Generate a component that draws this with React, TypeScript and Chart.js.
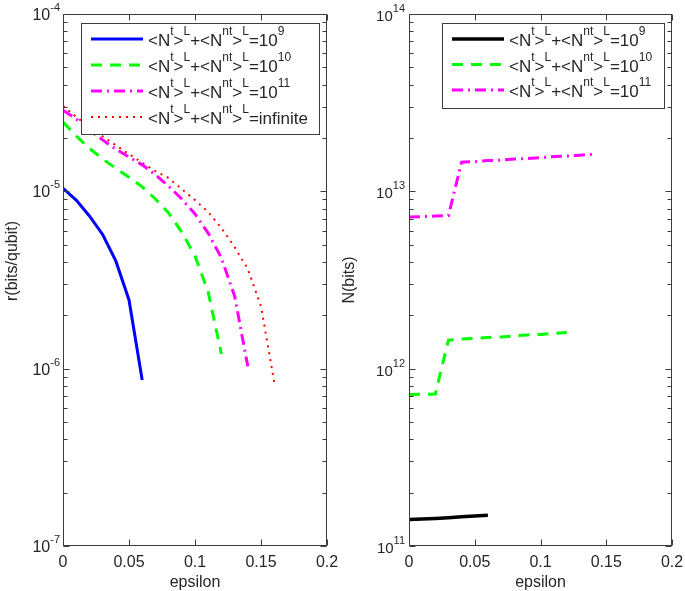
import React, { useEffect, useRef } from 'react';
import { Chart, registerables } from 'chart.js';

Chart.register(...registerables);

// ---------- data ----------
const eps9 = [0, 0.01, 0.02, 0.03, 0.04, 0.05, 0.06];
const eps10 = [0, 0.01, 0.02, 0.03, 0.04, 0.05, 0.06, 0.07, 0.08, 0.09, 0.1, 0.11, 0.12];
const eps11 = [0, 0.01, 0.02, 0.03, 0.04, 0.05, 0.06, 0.07, 0.08, 0.09, 0.1, 0.11, 0.12, 0.13, 0.14];
const epsInf = [0, 0.01, 0.02, 0.03, 0.04, 0.05, 0.06, 0.07, 0.08, 0.09, 0.1, 0.11, 0.12, 0.13, 0.14, 0.15, 0.16];

const rate9 = [1.04e-5, 8.93e-6, 7.26e-6, 5.71e-6, 4.05e-6, 2.44e-6, 8.63e-7];
const rate10 = [2.46e-5, 2.05e-5, 1.75e-5, 1.52e-5, 1.35e-5, 1.2e-5, 1.06e-5, 9.05e-6, 7.55e-6, 5.89e-6, 4.32e-6, 2.7e-6, 1.21e-6];
const rate11 = [2.87e-5, 2.56e-5, 2.22e-5, 1.95e-5, 1.73e-5, 1.56e-5, 1.41e-5, 1.24e-5, 1.07e-5, 9.05e-6, 7.45e-6, 5.82e-6, 4.21e-6, 2.57e-6, 1.03e-6];
const rateInf = [3.03e-5, 2.63e-5, 2.31e-5, 2.04e-5, 1.82e-5, 1.62e-5, 1.45e-5, 1.3e-5, 1.19e-5, 1.03e-5, 8.93e-6, 7.64e-6, 6.21e-6, 4.85e-6, 3.65e-6, 2.25e-6, 8.4e-7];

const bits9 = [1.41e11, 1.42e11, 1.43e11, 1.445e11, 1.46e11, 1.475e11, 1.49e11];
const bits10 = [7.16e11, 7.17e11, 7.2e11, 1.45e12, 1.47e12, 1.48e12, 1.5e12, 1.51e12, 1.53e12, 1.55e12, 1.56e12, 1.58e12, 1.6e12];
const bits11 = [7.16e12, 7.2e12, 7.25e12, 7.3e12, 1.46e13, 1.47e13, 1.49e13, 1.5e13, 1.52e13, 1.53e13, 1.55e13, 1.57e13, 1.58e13, 1.6e13, 1.62e13];

const xTicks = [0, 0.05, 0.1, 0.15, 0.2];
const xTickLabels = ['0', '0.05', '0.1', '0.15', '0.2'];
const leftYExps = [-7, -6, -5, -4];
const rightYExps = [11, 12, 13, 14];
const legendTotals = ['9', '10', '11', 'infinite'];
const xTitle = 'epsilon';
const leftYTitle = 'r(bits/qubit)';
const rightYTitle = 'N(bits)';

const FONT = '"Liberation Sans", Arial, Helvetica, sans-serif';
const AXIS = '#3c3c3c';
const TEXT = '#262626';

type Seg = [string, boolean];
function legendSegs(total: string): Seg[] {
  const sup = total !== 'infinite';
  const segs: Seg[] = [['<N', false], ['t', true], ['>', false], ['L', true], ['+<N', false], ['nt', true], ['>', false], ['L', true]];
  if (sup) { segs.push(['=10', false]); segs.push([total, true]); }
  else segs.push(['=' + total, false]);
  return segs;
}

function drawRich(ctx: CanvasRenderingContext2D, segs: Seg[], x: number, y: number, base: number, sup: number, rise: number) {
  let cx = x;
  for (const [t, s] of segs) {
    ctx.font = `${s ? sup : base}px ${FONT}`;
    ctx.fillText(t, cx, s ? y - rise : y);
    cx += ctx.measureText(t).width;
  }
}

type PanelCfg = {
  yExps: number[];
  yBase: number; ySup: number; yBaseDy: number; ySupDy: number; yLabelGap: number;
  yTitle: string; yTitleX: number; yTitleY: number;
  legend: { x1: number; y1: number; x2: number; y2: number; rows: number[]; s1: number; s2: number; tx: number };
};

function decorPlugin(cfg: PanelCfg) {
  return {
    id: 'matlabDecor',
    afterDraw(chart: any) {
      const ctx: CanvasRenderingContext2D = chart.ctx;
      const { left, right, top, bottom } = chart.chartArea;
      const xs = chart.scales.x;
      const ys = chart.scales.y;
      ctx.save();
      ctx.setLineDash([]);
      ctx.strokeStyle = AXIS;
      ctx.lineWidth = 1;
      const L = Math.round(left) + 0.5, R = Math.round(right) - 0.5;
      const T = Math.round(top) + 0.5, B = Math.round(bottom) - 0.5;
      ctx.strokeRect(L, T, R - L, B - T);
      const seg = (x1: number, y1: number, x2: number, y2: number) => {
        ctx.beginPath(); ctx.moveTo(x1, y1); ctx.lineTo(x2, y2); ctx.stroke();
      };
      // x ticks (inward, top and bottom)
      xTicks.forEach((v) => {
        const px = Math.round(xs.getPixelForValue(v)) + 0.5;
        seg(px, B, px, B - 6);
        seg(px, T, px, T + 6);
      });
      // y ticks major + minor
      const exps = cfg.yExps;
      for (let i = 0; i < exps.length; i++) {
        const e = exps[i];
        const py = Math.round(ys.getPixelForValue(Math.pow(10, e))) + 0.5;
        seg(L, py, L + 6, py); seg(R, py, R - 6, py);
        if (i < exps.length - 1) {
          for (let k = 2; k <= 9; k++) {
            const pm = Math.round(ys.getPixelForValue(k * Math.pow(10, e))) + 0.5;
            seg(L, pm, L + 4, pm); seg(R, pm, R - 4, pm);
          }
        }
      }
      // x tick labels
      ctx.fillStyle = TEXT;
      ctx.textAlign = 'center';
      ctx.textBaseline = 'alphabetic';
      ctx.font = `16px ${FONT}`;
      xTicks.forEach((v, i) => {
        ctx.fillText(xTickLabels[i], xs.getPixelForValue(v), 567);
      });
      ctx.fillText(xTitle, (left + right) / 2, 587);
      // y tick labels with superscript
      ctx.textAlign = 'left';
      exps.forEach((e) => {
        const py = ys.getPixelForValue(Math.pow(10, e));
        const expStr = e < 0 ? '-' + Math.abs(e) : String(e);
        ctx.font = `${cfg.ySup}px ${FONT}`;
        const ew = ctx.measureText(expStr).width;
        ctx.font = `${cfg.yBase}px ${FONT}`;
        const bw = ctx.measureText('10').width;
        const xe = left - cfg.yLabelGap - ew;
        ctx.fillText('10', xe - bw, py + cfg.yBaseDy);
        ctx.font = `${cfg.ySup}px ${FONT}`;
        ctx.fillText(expStr, xe, py + cfg.ySupDy);
      });
      // y title
      ctx.save();
      ctx.translate(cfg.yTitleX, cfg.yTitleY);
      ctx.rotate(-Math.PI / 2);
      ctx.textAlign = 'center';
      ctx.textBaseline = 'middle';
      ctx.font = `16px ${FONT}`;
      ctx.fillText(cfg.yTitle, 0, 0);
      ctx.restore();
      // legend
      const lg = cfg.legend;
      ctx.fillStyle = '#ffffff';
      ctx.fillRect(lg.x1, lg.y1, lg.x2 - lg.x1, lg.y2 - lg.y1);
      ctx.strokeStyle = AXIS;
      ctx.lineWidth = 1;
      ctx.setLineDash([]);
      ctx.strokeRect(Math.round(lg.x1) + 0.5, Math.round(lg.y1) + 0.5, Math.round(lg.x2 - lg.x1), Math.round(lg.y2 - lg.y1));
      chart.data.datasets.forEach((ds: any, i: number) => {
        const ry = lg.rows[i];
        ctx.save();
        ctx.strokeStyle = ds.borderColor;
        ctx.lineWidth = ds.borderWidth;
        ctx.setLineDash(ds.borderDash || []);
        ctx.lineCap = 'butt';
        seg(lg.s1, ry, lg.s2, ry);
        ctx.restore();
        ctx.fillStyle = TEXT;
        ctx.textAlign = 'left';
        ctx.textBaseline = 'alphabetic';
        drawRich(ctx, legendSegs(legendTotals[i]), lg.tx, ry + 7, 17, 12, 11);
      });
      ctx.restore();
    },
  };
}

function toPts(xs: number[], ys: number[]) {
  return xs.map((x, i) => ({ x, y: ys[i] }));
}

const solid = (color: string, data: any[], w = 3) => ({ data, borderColor: color, borderWidth: w, borderDash: [] as number[], pointRadius: 0, fill: false, tension: 0 });

function Panel(props: { left: number; width: number; datasets: any[]; yMin: number; yMax: number; padLeft: number; cfg: PanelCfg }) {
  const ref = useRef<HTMLCanvasElement | null>(null);
  useEffect(() => {
    if (!ref.current) return;
    const chart = new Chart(ref.current, {
      type: 'line',
      data: { datasets: props.datasets },
      options: {
        animation: false,
        responsive: false,
        maintainAspectRatio: false,
        devicePixelRatio: 1,
        layout: { padding: { left: props.padLeft, right: 13, top: 14, bottom: 45 } },
        plugins: { legend: { display: false }, tooltip: { enabled: false } },
        scales: {
          x: { type: 'linear', min: 0, max: 0.2, display: false },
          y: { type: 'logarithmic', min: props.yMin, max: props.yMax, display: false },
        },
      } as any,
      plugins: [decorPlugin(props.cfg) as any],
    });
    return () => chart.destroy();
  }, []);
  return (
    <canvas
      ref={ref}
      width={props.width}
      height={591}
      style={{ position: 'absolute', left: props.left, top: 0, width: props.width, height: 591 }}
    />
  );
}

export default function App() {
  const leftSets = [
    solid('#0000ff', toPts(eps9, rate9), 3),
    { ...solid('#00ff00', toPts(eps10, rate10), 3), borderDash: [11, 8] },
    { ...solid('#ff00ff', toPts(eps11, rate11), 3), borderDash: [11, 5, 2, 5] },
    { ...solid('#ff0000', toPts(epsInf, rateInf), 2), borderDash: [2, 5] },
  ];
  const rightSets = [
    solid('#000000', toPts(eps9, bits9), 3.5),
    { ...solid('#00ff00', toPts(eps10, bits10), 3), borderDash: [11, 8] },
    { ...solid('#ff00ff', toPts(eps11, bits11), 3), borderDash: [11, 5, 2, 5] },
  ];
  const leftCfg: PanelCfg = {
    yExps: leftYExps, yBase: 16, ySup: 11, yBaseDy: 6, ySupDy: -3, yLabelGap: 3,
    yTitle: leftYTitle, yTitleX: 13, yTitleY: 261,
    legend: { x1: 81, y1: 23, x2: 319, y2: 134, rows: [39, 65, 91, 117], s1: 91, s2: 143, tx: 148 },
  };
  const rightCfg: PanelCfg = {
    yExps: rightYExps, yBase: 15, ySup: 11, yBaseDy: 7, ySupDy: -2, yLabelGap: 4,
    yTitle: rightYTitle, yTitleX: 10, yTitleY: 280,
    legend: { x1: 102, y1: 23, x2: 324, y2: 108, rows: [39, 64.5, 90], s1: 112, s2: 164, tx: 169 },
  };
  return (
    <div style={{ position: 'absolute', left: 0, top: 0, width: 685, height: 591, background: '#ffffff', overflow: 'hidden' }}>
      <Panel left={0} width={340} datasets={leftSets} yMin={1e-7} yMax={1e-4} padLeft={63} cfg={leftCfg} />
      <Panel left={340} width={345} datasets={rightSets} yMin={1e11} yMax={1e14} padLeft={69} cfg={rightCfg} />
    </div>
  );
}
